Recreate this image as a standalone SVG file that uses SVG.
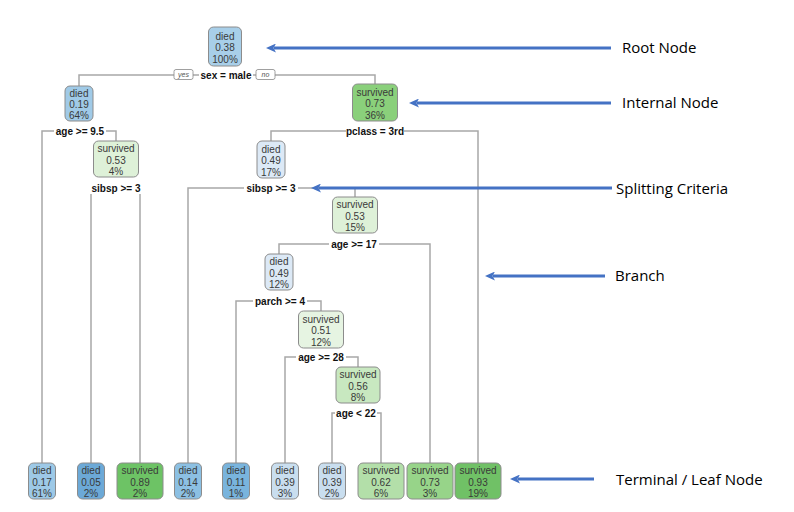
<svg xmlns="http://www.w3.org/2000/svg" width="794" height="512" viewBox="0 0 794 512">
<style>
.bx{stroke:#8c8c8c;stroke-width:1}
.t{font-family:"Liberation Sans",Arial,sans-serif;font-size:10px;fill:#3a3a3a;text-anchor:middle}
.s{font-family:"Liberation Sans",Arial,sans-serif;font-size:10px;font-weight:bold;fill:#111;text-anchor:middle}
.yn{font-family:"Liberation Sans",Arial,sans-serif;font-size:7px;font-style:italic;fill:#555;text-anchor:middle}
.e{stroke:#a8a8a8;stroke-width:1.5;fill:none}
.bg{fill:#fff}
.ar{stroke:#4472C4;stroke-width:3;fill:none}
.an{font-family:"Open Sans","Liberation Sans",sans-serif;font-size:15px;fill:#000}
</style>
<defs>
<marker id="ah" viewBox="0 0 10 9" refX="2" refY="4.5" markerWidth="10" markerHeight="9" markerUnits="userSpaceOnUse" orient="auto">
<path d="M0,0 L10,4.5 L0,9 L2.5,4.5 Z" fill="#4472C4"/>
</marker>
</defs>
<rect width="794" height="512" fill="#fff"/>
<g id="connectors">
<path class="e" d="M79 86 V75 H375 V84"/>
<path class="e" d="M42 463 V131 H116 V141"/>
<path class="e" d="M91 463 V188 H140 V463"/>
<path class="e" d="M271 141 V131 H478 V463"/>
<path class="e" d="M188 463 V188 H355 V197"/>
<path class="e" d="M279 254 V244 H430 V463"/>
<path class="e" d="M236 463 V301 H321 V311"/>
<path class="e" d="M285 463 V357 H358 V367"/>
<path class="e" d="M332 463 V413 H381 V463"/>
</g>
<g id="split-labels">
<rect class="bg" x="199" y="69" width="54" height="12"/><text class="s" x="226" y="78.5">sex = male</text>
<rect x="174" y="69.5" width="19" height="10" rx="2" fill="#fff" stroke="#888" stroke-width="0.8"/><text class="yn" x="183.5" y="77">yes</text>
<rect x="256" y="69.5" width="19" height="10" rx="2" fill="#fff" stroke="#888" stroke-width="0.8"/><text class="yn" x="265.5" y="77">no</text>
<rect class="bg" x="54" y="125" width="52" height="12"/><text class="s" x="80" y="134.5">age &gt;= 9.5</text>
<rect class="bg" x="346" y="125" width="58" height="12"/><text class="s" x="375" y="134.5">pclass = 3rd</text>
<rect class="bg" x="89" y="182" width="54" height="12"/><text class="s" x="116" y="191.5">sibsp &gt;= 3</text>
<rect class="bg" x="244" y="182" width="54" height="12"/><text class="s" x="271" y="191.5">sibsp &gt;= 3</text>
<rect class="bg" x="329" y="238" width="50" height="12"/><text class="s" x="354" y="247.5">age &gt;= 17</text>
<rect class="bg" x="253" y="295" width="54" height="12"/><text class="s" x="280" y="304.5">parch &gt;= 4</text>
<rect class="bg" x="296" y="351" width="50" height="12"/><text class="s" x="321" y="360.5">age &gt;= 28</text>
<rect class="bg" x="335" y="407" width="42" height="12"/><text class="s" x="356" y="416.5">age &lt; 22</text>
</g>
<g id="root"><rect class="bx" x="208.5" y="27" width="33" height="39" rx="5" fill="#a8cfe9"/><text class="t" x="225" y="39.5">died</text><text class="t" x="225" y="51">0.38</text><text class="t" x="225" y="62.5">100%</text></g>
<g id="n2"><rect class="bx" x="65" y="86" width="28" height="35" rx="5" fill="#a0cae7"/><text class="t" x="79" y="96.5">died</text><text class="t" x="79" y="108">0.19</text><text class="t" x="79" y="119">64%</text></g>
<g id="n3"><rect class="bx" x="352.5" y="84" width="45" height="37" rx="5" fill="#8ad07b"/><text class="t" x="375" y="95.5">survived</text><text class="t" x="375" y="107">0.73</text><text class="t" x="375" y="118.5">36%</text></g>
<g id="n4"><rect class="bx" x="93.5" y="141" width="45" height="36" rx="5" fill="#def1d8"/><text class="t" x="116" y="152">survived</text><text class="t" x="116" y="163.5">0.53</text><text class="t" x="116" y="175">4%</text></g>
<g id="n5"><rect class="bx" x="257" y="141" width="28" height="37" rx="5" fill="#dce9f6"/><text class="t" x="271" y="152.5">died</text><text class="t" x="271" y="164">0.49</text><text class="t" x="271" y="175.5">17%</text></g>
<g id="n6"><rect class="bx" x="332.5" y="197" width="45" height="36" rx="5" fill="#def1d8"/><text class="t" x="355" y="208">survived</text><text class="t" x="355" y="219.5">0.53</text><text class="t" x="355" y="231">15%</text></g>
<g id="n7"><rect class="bx" x="265" y="254" width="28" height="36" rx="5" fill="#dce9f6"/><text class="t" x="279" y="265">died</text><text class="t" x="279" y="276.5">0.49</text><text class="t" x="279" y="288">12%</text></g>
<g id="n8"><rect class="bx" x="298.5" y="311" width="45" height="37" rx="5" fill="#e6f4e2"/><text class="t" x="321" y="322.5">survived</text><text class="t" x="321" y="334">0.51</text><text class="t" x="321" y="345.5">12%</text></g>
<g id="n9"><rect class="bx" x="336" y="367" width="44" height="36" rx="5" fill="#c8e8c0"/><text class="t" x="358" y="378">survived</text><text class="t" x="358" y="389.5">0.56</text><text class="t" x="358" y="401">8%</text></g>
<g id="leaf1"><rect class="bx" x="28.5" y="463" width="27" height="36" rx="5" fill="#9dc9e7"/><text class="t" x="42" y="473.5">died</text><text class="t" x="42" y="485.5">0.17</text><text class="t" x="42" y="496.5">61%</text></g>
<g id="leaf2"><rect class="bx" x="77.5" y="463" width="27" height="36" rx="5" fill="#6ca9d7"/><text class="t" x="91" y="473.5">died</text><text class="t" x="91" y="485.5">0.05</text><text class="t" x="91" y="496.5">2%</text></g>
<g id="leaf3"><rect class="bx" x="117" y="463" width="46" height="36" rx="5" fill="#6dc365"/><text class="t" x="140" y="473.5">survived</text><text class="t" x="140" y="485.5">0.89</text><text class="t" x="140" y="496.5">2%</text></g>
<g id="leaf4"><rect class="bx" x="174.5" y="463" width="27" height="36" rx="5" fill="#8cc0e3"/><text class="t" x="188" y="473.5">died</text><text class="t" x="188" y="485.5">0.14</text><text class="t" x="188" y="496.5">2%</text></g>
<g id="leaf5"><rect class="bx" x="222.5" y="463" width="27" height="36" rx="5" fill="#79b4dd"/><text class="t" x="236" y="473.5">died</text><text class="t" x="236" y="485.5">0.11</text><text class="t" x="236" y="496.5">1%</text></g>
<g id="leaf6"><rect class="bx" x="271.5" y="463" width="27" height="36" rx="5" fill="#c9deef"/><text class="t" x="285" y="473.5">died</text><text class="t" x="285" y="485.5">0.39</text><text class="t" x="285" y="496.5">3%</text></g>
<g id="leaf7"><rect class="bx" x="318.5" y="463" width="27" height="36" rx="5" fill="#c9deef"/><text class="t" x="332" y="473.5">died</text><text class="t" x="332" y="485.5">0.39</text><text class="t" x="332" y="496.5">2%</text></g>
<g id="leaf8"><rect class="bx" x="358" y="463" width="46" height="36" rx="5" fill="#b3dfa9"/><text class="t" x="381" y="473.5">survived</text><text class="t" x="381" y="485.5">0.62</text><text class="t" x="381" y="496.5">6%</text></g>
<g id="leaf9"><rect class="bx" x="407" y="463" width="46" height="36" rx="5" fill="#97d489"/><text class="t" x="430" y="473.5">survived</text><text class="t" x="430" y="485.5">0.73</text><text class="t" x="430" y="496.5">3%</text></g>
<g id="leaf10"><rect class="bx" x="455" y="463" width="46" height="36" rx="5" fill="#70c166"/><text class="t" x="478" y="473.5">survived</text><text class="t" x="478" y="485.5">0.93</text><text class="t" x="478" y="496.5">19%</text></g>
<g id="annotations">
<line class="ar" x1="611" y1="48" x2="274" y2="48" marker-end="url(#ah)"/>
<text class="an" x="622" y="53">Root Node</text>
<line class="ar" x1="611" y1="103" x2="417" y2="103" marker-end="url(#ah)"/>
<text class="an" x="622" y="108">Internal Node</text>
<line class="ar" x1="612" y1="188" x2="319" y2="188" marker-end="url(#ah)"/>
<text class="an" x="616" y="194">Splitting Criteria</text>
<line class="ar" x1="605" y1="276" x2="493" y2="276" marker-end="url(#ah)"/>
<text class="an" x="615" y="281">Branch</text>
<line class="ar" x1="594" y1="479" x2="518" y2="479" marker-end="url(#ah)"/>
<text class="an" x="616" y="485">Terminal / Leaf Node</text>
</g>
</svg>
